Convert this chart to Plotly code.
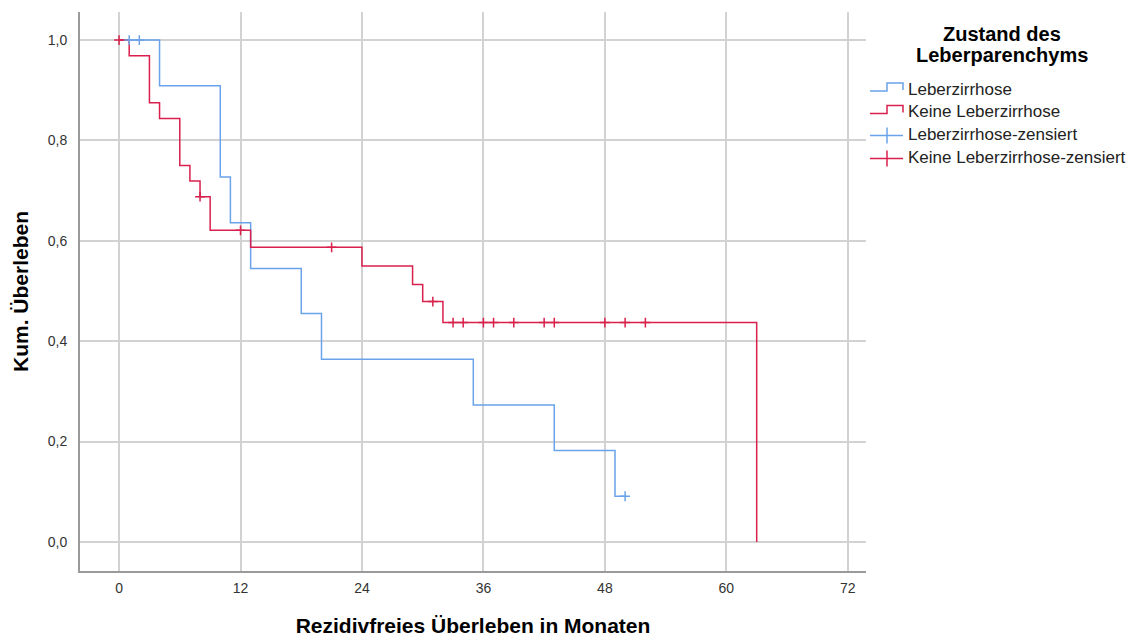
import plotly.graph_objects as go

# ---- data ----
lz_time = [0, 4, 10, 11, 13, 18, 20, 35, 43, 49, 50]
lz_surv = [1.0, 0.909, 0.727, 0.636, 0.545, 0.455, 0.364, 0.273, 0.182, 0.091, 0.091]
lz_cens_time = [1, 2, 50]
lz_cens_surv = [1.0, 1.0, 0.091]

klz_time = [0, 1, 3, 4, 6, 7, 8, 9, 13, 24, 29, 30, 32, 63]
klz_surv = [1.0, 0.969, 0.875, 0.844, 0.75, 0.719, 0.688, 0.621, 0.587, 0.55, 0.513, 0.479, 0.437, 0.0]
klz_cens_time = [0, 8, 12, 21, 31, 33, 34, 36, 37, 39, 42, 43, 48, 50, 52]
klz_cens_surv = [1.0, 0.688, 0.621, 0.587, 0.479, 0.437, 0.437, 0.437, 0.437, 0.437, 0.437, 0.437, 0.437, 0.437, 0.437]

x_ticks = [0, 12, 24, 36, 48, 60, 72]
y_ticks = [0.0, 0.2, 0.4, 0.6, 0.8, 1.0]

legend_title = ["Zustand des", "Leberparenchyms"]
legend_labels = ["Leberzirrhose", "Keine Leberzirrhose",
                 "Leberzirrhose-zensiert", "Keine Leberzirrhose-zensiert"]

BLUE = "#6aa3ea"
RED = "#d9204c"
FONT = "Liberation Sans, Arial, sans-serif"

W, H = 1141, 637
ML, MR, MT, MB = 80, 275, 12, 66
PW, PH = W - ML - MR, H - MT - MB


def px(xp):
    return (xp - ML) / PW


def py(yp):
    return (H - MB - yp) / PH


fig = go.Figure()
fig.add_trace(go.Scatter(x=lz_time, y=lz_surv, mode="lines", line_shape="hv",
                         line=dict(color=BLUE, width=1.5), name=legend_labels[0],
                         showlegend=False))
fig.add_trace(go.Scatter(x=klz_time, y=klz_surv, mode="lines", line_shape="hv",
                         line=dict(color=RED, width=1.5), name=legend_labels[1],
                         showlegend=False))
fig.add_trace(go.Scatter(x=lz_cens_time, y=lz_cens_surv, mode="markers",
                         marker=dict(symbol="cross-thin", size=7,
                                     line=dict(color=BLUE, width=1.5)),
                         name=legend_labels[2], showlegend=False))
fig.add_trace(go.Scatter(x=klz_cens_time, y=klz_cens_surv, mode="markers",
                         marker=dict(symbol="cross-thin", size=7,
                                     line=dict(color=RED, width=1.5)),
                         name=legend_labels[3], showlegend=False))

# ---- manual legend (SPSS style icons) ----
shapes = []
annotations = []
for i, t in enumerate(legend_title):
    annotations.append(dict(xref="paper", yref="paper", x=px(1002), y=py(34 + 21 * i),
                            text="<b>%s</b>" % t, showarrow=False, xanchor="center",
                            yanchor="middle", font=dict(family=FONT, size=20, color="#000")))

row_y = [89, 111.5, 134.5, 157.5]
colors = [BLUE, RED, BLUE, RED]
for i, lab in enumerate(legend_labels):
    yc = row_y[i]
    c = colors[i]
    if i < 2:
        path = "M %f %f L %f %f L %f %f L %f %f L %f %f" % (
            px(870), py(yc + 2), px(887), py(yc + 2), px(887), py(yc - 6),
            px(903), py(yc - 6), px(903), py(yc + 1))
        shapes.append(dict(type="path", xref="paper", yref="paper", path=path,
                           line=dict(color=c, width=1.5)))
    else:
        shapes.append(dict(type="line", xref="paper", yref="paper", x0=px(870), x1=px(903),
                           y0=py(yc + 1), y1=py(yc + 1), line=dict(color=c, width=1.5)))
        shapes.append(dict(type="line", xref="paper", yref="paper", x0=px(887), x1=px(887),
                           y0=py(yc - 7), y1=py(yc + 9), line=dict(color=c, width=1.5)))
    annotations.append(dict(xref="paper", yref="paper", x=px(906), y=py(yc), text=lab,
                            showarrow=False, xanchor="left", yanchor="middle",
                            font=dict(family=FONT, size=17, color="#222")))

fig.update_layout(
    width=W, height=H,
    margin=dict(l=ML, r=MR, t=MT, b=MB, autoexpand=False),
    paper_bgcolor="white", plot_bgcolor="white",
    separators=", ",
    font=dict(family=FONT, color="#222"),
    shapes=shapes, annotations=annotations,
    xaxis=dict(range=[-3.86, 73.8], tickvals=x_ticks, showgrid=True,
               gridcolor="#d2d2d2", gridwidth=2, zeroline=False,
               showline=True, linecolor="#9a9a9a", linewidth=2, automargin=False,
               ticks="", ticklabelstandoff=3, tickfont=dict(size=14, color="#333"),
               title=dict(text="<b>Rezidivfreies Überleben in Monaten</b>",
                          font=dict(size=21, color="#000"), standoff=32)),
    yaxis=dict(range=[-0.058, 1.056], tickvals=y_ticks, tickformat=".1f",
               showgrid=True, gridcolor="#d2d2d2", gridwidth=2, zeroline=False,
               showline=True, linecolor="#9a9a9a", linewidth=2, automargin=False,
               ticks="", ticklabelstandoff=8, tickfont=dict(size=14, color="#333"),
               title=dict(text="<b>Kum. Überleben</b>",
                          font=dict(size=21, color="#000"), standoff=13)),
)

fig.write_html("out.html")
